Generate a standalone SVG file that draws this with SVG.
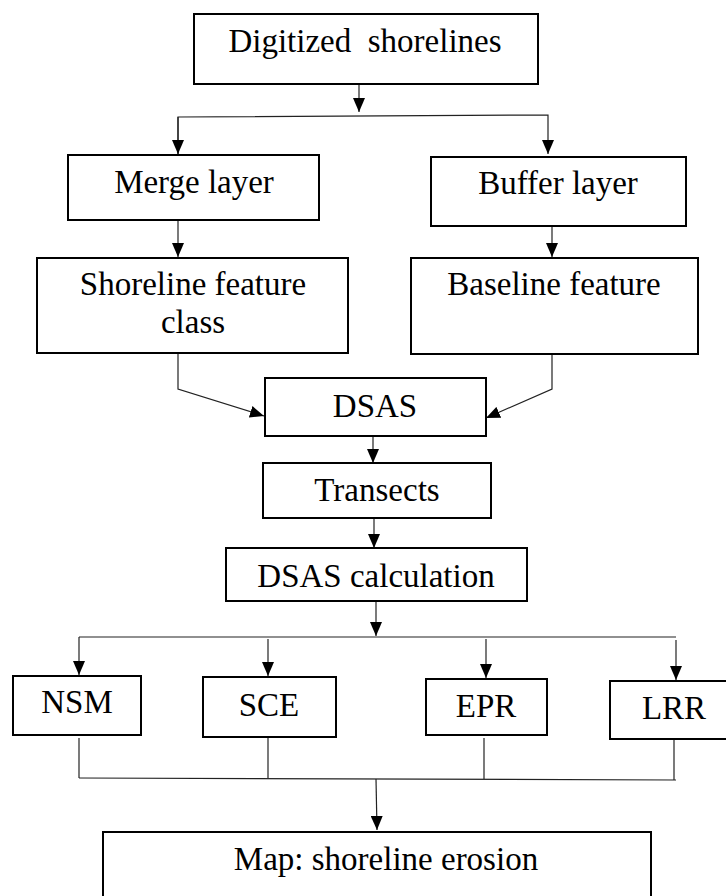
<svg xmlns="http://www.w3.org/2000/svg" width="726" height="896" viewBox="0 0 726 896">
<style>
.box{fill:#fff;stroke:#000;stroke-width:2}
.t{font-family:"Liberation Serif","Times New Roman",serif;font-size:33px;fill:#000;text-anchor:middle}
.c{fill:none;stroke:#222;stroke-width:1.2}
</style>
<defs>
<marker id="ah" markerUnits="userSpaceOnUse" markerWidth="15" markerHeight="12" refX="14" refY="6" orient="auto">
<path d="M0,0 L14,6 L0,12 z" fill="#000"/>
</marker>
</defs>
<rect x="0" y="0" width="726" height="896" fill="#fff"/>
<g id="connectors">
<line class="c" x1="359" y1="84" x2="359" y2="112" marker-end="url(#ah)"/>
<polyline class="c" points="178,154 178,117 548,115 548,154" marker-end="url(#ah)"/>
<line class="c" x1="178" y1="117" x2="178" y2="154" marker-end="url(#ah)"/>
<line class="c" x1="178" y1="220" x2="178" y2="257" marker-end="url(#ah)"/>
<line class="c" x1="552" y1="226" x2="552" y2="257" marker-end="url(#ah)"/>
<polyline class="c" points="178,353 178,389 264,416" marker-end="url(#ah)"/>
<polyline class="c" points="552,354 552,389 486,418" marker-end="url(#ah)"/>
<line class="c" x1="373" y1="436" x2="373" y2="463" marker-end="url(#ah)"/>
<line class="c" x1="374" y1="518" x2="374" y2="548" marker-end="url(#ah)"/>
<line class="c" x1="376" y1="601" x2="376" y2="636" marker-end="url(#ah)"/>
<line class="c" x1="79" y1="637" x2="676" y2="637"/>
<line class="c" x1="79" y1="637" x2="79" y2="675" marker-end="url(#ah)"/>
<line class="c" x1="268" y1="639" x2="268" y2="676" marker-end="url(#ah)"/>
<line class="c" x1="486" y1="639" x2="486" y2="678" marker-end="url(#ah)"/>
<line class="c" x1="676" y1="640" x2="676" y2="680" marker-end="url(#ah)"/>
<line class="c" x1="79" y1="738" x2="79" y2="778"/>
<line class="c" x1="268" y1="737" x2="268" y2="778"/>
<line class="c" x1="484" y1="738" x2="484" y2="779"/>
<line class="c" x1="674" y1="739" x2="674" y2="780"/>
<line class="c" x1="79" y1="778" x2="676" y2="780"/>
<line class="c" x1="376" y1="779" x2="377" y2="830" marker-end="url(#ah)"/>
</g>
<g id="digitized">
<rect class="box" x="194" y="14" width="344" height="70"/>
<text class="t" x="365" y="52" style="white-space:pre">Digitized  shorelines</text>
</g>
<g id="merge">
<rect class="box" x="68" y="155" width="251" height="65"/>
<text class="t" x="194" y="193">Merge layer</text>
</g>
<g id="buffer">
<rect class="box" x="431" y="157" width="255" height="69"/>
<text class="t" x="558" y="194">Buffer layer</text>
</g>
<g id="shoreline">
<rect class="box" x="37" y="258" width="311" height="95"/>
<text class="t" x="193" y="295">Shoreline feature</text>
<text class="t" x="193" y="333">class</text>
</g>
<g id="baseline">
<rect class="box" x="411" y="258" width="287" height="96"/>
<text class="t" x="554" y="295">Baseline feature</text>
</g>
<g id="dsas">
<rect class="box" x="265" y="378" width="221" height="58"/>
<text class="t" x="375" y="417">DSAS</text>
</g>
<g id="transects">
<rect class="box" x="263" y="463" width="228" height="55"/>
<text class="t" x="377" y="501">Transects</text>
</g>
<g id="calc">
<rect class="box" x="226" y="548" width="301" height="53"/>
<text class="t" x="376" y="587">DSAS calculation</text>
</g>
<g id="nsm">
<rect class="box" x="13" y="676" width="128" height="59"/>
<text class="t" x="77" y="713">NSM</text>
</g>
<g id="sce">
<rect class="box" x="203" y="677" width="133" height="60"/>
<text class="t" x="269" y="716">SCE</text>
</g>
<g id="epr">
<rect class="box" x="426" y="679" width="121" height="56"/>
<text class="t" x="486" y="717">EPR</text>
</g>
<g id="lrr">
<rect class="box" x="610" y="681" width="120" height="58"/>
<text class="t" x="674" y="719">LRR</text>
</g>
<g id="map">
<rect class="box" x="103" y="832" width="548" height="80"/>
<text class="t" x="386" y="870">Map: shoreline erosion</text>
</g>
</svg>
